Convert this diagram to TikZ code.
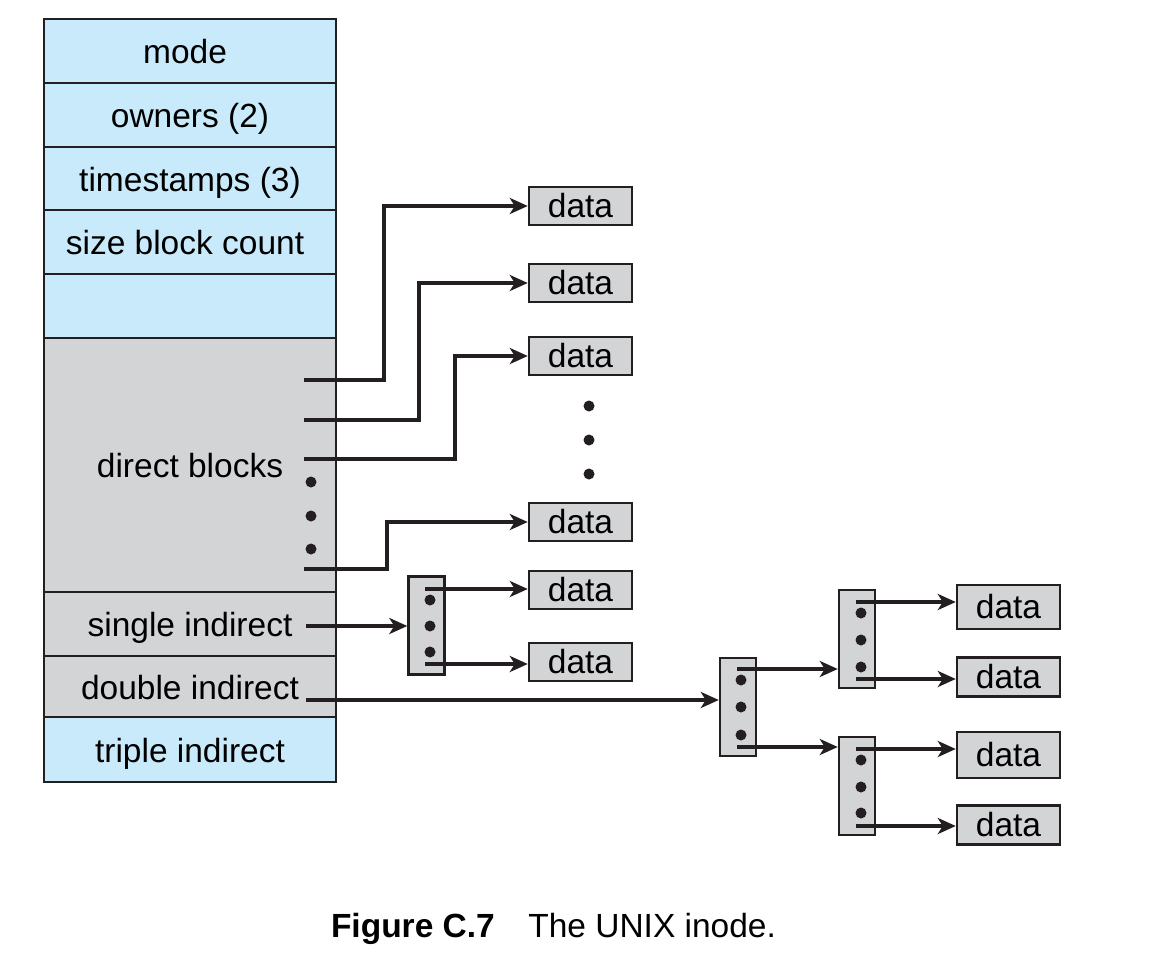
\documentclass[tikz,border=0pt]{standalone}
\usepackage{fontspec}
\setmainfont{Liberation Sans}
\usetikzlibrary{arrows.meta,calc}
\definecolor{inodeblue}{HTML}{C8EAFB}
\definecolor{blockgray}{HTML}{D3D4D6}
\definecolor{ink}{HTML}{231F20}

\begin{document}
\begin{tikzpicture}[
  x=1pt, y=-1pt,
  field/.style={draw=ink, line width=2.4pt, minimum width=292pt,
                inner sep=0pt, text height=32pt, text depth=7pt,
                font=\fontsize{33.5}{40}\selectfont},
  datab/.style={draw=ink, line width=2.4pt, fill=blockgray,
                minimum width=103pt, minimum height=38pt, inner sep=0pt,
                font=\fontsize{33.5}{40}\selectfont},
  idx/.style={draw=ink, line width=2.4pt, fill=blockgray,
              minimum width=36pt, minimum height=98pt, inner sep=0pt},
  ptr/.style={draw=ink, line width=4.6pt,
              -{Stealth[length=18pt,width=16pt,inset=5pt]}}
]
\useasboundingbox (0,0) rectangle (1165,958);

% inode fields
\node[field, fill=inodeblue, minimum height=64pt] (mode)  at (190,51)    {\kern-10pt mode};
\node[field, fill=inodeblue, minimum height=64pt] (own)   at (190,115)   {owners (2)};
\node[field, fill=inodeblue, minimum height=63pt] (time)  at (190,178.5) {timestamps (3)};
\node[field, fill=inodeblue, minimum height=64pt] (size)  at (190,242)   {\kern-10pt size block count};
\node[field, fill=inodeblue, minimum height=64pt] (blank) at (190,306)   {};
\node[field, fill=blockgray, minimum height=254pt] (direct) at (190,465) {direct blocks};
\node[field, fill=blockgray, minimum height=64pt] (single) at (190,624)  {single indirect};
\node[field, fill=blockgray, minimum height=61pt] (double) at (190,686.5) {double indirect};
\node[field, fill=inodeblue, minimum height=65pt] (triple) at (190,749.5) {triple indirect};

% data blocks
\node[datab] (d1) at (580.5,206) {data};
\node[datab] (d2) at (580.5,283) {data};
\node[datab] (d3) at (580.5,356) {data};
\node[datab] (d4) at (580.5,522) {data};
\node[datab] (d5) at (580.5,590) {data};
\node[datab] (d6) at (580.5,662) {data};
\node[datab, minimum height=44pt] (r1) at (1008.5,607) {data};
\node[datab, minimum height=39pt] (r2) at (1008.5,677) {data};
\node[datab, minimum height=46pt] (r3) at (1008.5,755) {data};
\node[datab, minimum height=39pt] (r4) at (1008.5,825) {data};

% index blocks
\node[idx] (s1)  at (426.5,625.5) {};
\node[idx] (dbl) at (738,707) {};
\node[idx] (t1)  at (857,639) {};
\node[idx] (t2)  at (857,786) {};

% dots
\foreach \y in {482,516,549} \fill[ink] (311,\y) circle (5.5);
\foreach \y in {406,440,474} \fill[ink] (589,\y) circle (5.5);
\foreach \y in {600,626,652} \fill[ink] (430,\y) circle (5.5);
\foreach \y in {680,707,735} \fill[ink] (741,\y) circle (5.5);
\foreach \y in {613,640,667} \fill[ink] (861,\y) circle (5.5);
\foreach \y in {760,787,813} \fill[ink] (861,\y) circle (5.5);

% pointer origins
\coordinate (p1) at (304,380);
\coordinate (p2) at (304,420);
\coordinate (p3) at (304,459);
\coordinate (p4) at (304,569);
\coordinate (q1) at (306,626);
\coordinate (q2) at (306,700);
\coordinate (s1a) at (425,589);
\coordinate (s1b) at (425,664);
\coordinate (da) at (737,669);
\coordinate (db) at (737,747);
\coordinate (t1a) at (856,602);
\coordinate (t1b) at (856,679);
\coordinate (t2a) at (856,749);
\coordinate (t2b) at (856,826);

% direct pointers
\draw[ptr] (p1) -- ++(80,0) |- (d1.west);
\draw[ptr] (p2) -- ++(115,0) |- (d2.west);
\draw[ptr] (p3) -- ++(151,0) |- (d3.west);
\draw[ptr] (p4) -- ++(83,0) |- (d4.west);

% indirect pointers
\draw[ptr] (q1) -- (q1 -| s1.west);
\draw[ptr] (q2) -- (q2 -| dbl.west);
\draw[ptr] (s1a) -- (s1a -| d5.west);
\draw[ptr] (s1b) -- (s1b -| d6.west);
\draw[ptr] (da) -- (da -| t1.west);
\draw[ptr] (db) -- (db -| t2.west);
\draw[ptr] (t1a) -- (t1a -| r1.west);
\draw[ptr] (t1b) -- (t1b -| r2.west);
\draw[ptr] (t2a) -- (t2a -| r3.west);
\draw[ptr] (t2b) -- (t2b -| r4.west);

% caption
\node[font=\fontsize{33.5}{40}\selectfont] (cap) at (553.5,928.5)
  {\textbf{Figure C.7}\quad The UNIX inode.};
\end{tikzpicture}
\end{document}
